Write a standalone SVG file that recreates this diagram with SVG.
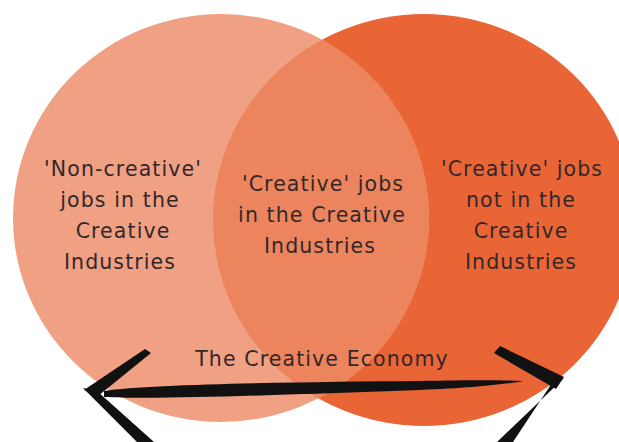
<svg xmlns="http://www.w3.org/2000/svg" width="619" height="442" viewBox="0 0 619 442">
  <style>
    .lbl { font-family: "DejaVu Sans", "Liberation Sans", sans-serif; font-size: 20.5px; fill: #33272a; text-anchor: middle; letter-spacing: 1.1px; }
    .ink { fill: #111; }
  </style>
  <defs>
    <clipPath id="clip-right">
      <ellipse cx="424" cy="220" rx="211" ry="206"/>
    </clipPath>
  </defs>
  <rect width="619" height="442" fill="#ffffff"/>

  <!-- right set: creative jobs outside the industries -->
  <g id="set-right">
    <ellipse cx="424" cy="220" rx="211" ry="206" fill="#E96535"/>
  </g>

  <!-- left set: creative industries -->
  <g id="set-left">
    <ellipse cx="221" cy="218" rx="208" ry="204" fill="#F0A083"/>
  </g>

  <!-- intersection of both sets -->
  <g id="set-overlap">
    <ellipse cx="221" cy="218" rx="208" ry="204" fill="#EC855D" clip-path="url(#clip-right)"/>
  </g>

  <g id="label-left">
    <text class="lbl" x="123" y="176">'Non-creative'</text>
    <text class="lbl" x="120" y="207">jobs in the</text>
    <text class="lbl" x="123" y="238">Creative</text>
    <text class="lbl" x="120" y="269">Industries</text>
  </g>

  <g id="label-overlap">
    <text class="lbl" x="323" y="191">'Creative' jobs</text>
    <text class="lbl" x="322" y="222">in the Creative</text>
    <text class="lbl" x="320" y="253">Industries</text>
  </g>

  <g id="label-right">
    <text class="lbl" x="522" y="176">'Creative' jobs</text>
    <text class="lbl" x="521" y="207">not in the</text>
    <text class="lbl" x="521" y="238">Creative</text>
    <text class="lbl" x="521" y="269">Industries</text>
  </g>

  <g id="label-economy">
    <text class="lbl" x="322" y="366">The Creative Economy</text>
  </g>

  <!-- brush-stroke double-headed arrow -->
  <g id="connectors">
    <path class="ink" d="M104,391 C150,384 300,382 420,381 C470,380 500,380 524,381 C500,385 470,388 420,390 C300,394 160,400 104,397 Z"/>
    <path class="ink" d="M145,349 L151,353 L98,396 L84,390 Z"/>
    <path class="ink" d="M83,388 L97,391 L154,442 L137,442 Z"/>
    <path class="ink" d="M494,353 L500,346 L564,377 L556,389 Z"/>
    <path class="ink" d="M564,378 L552,383 L513,442 L497,442 Z"/>
  </g>
</svg>
